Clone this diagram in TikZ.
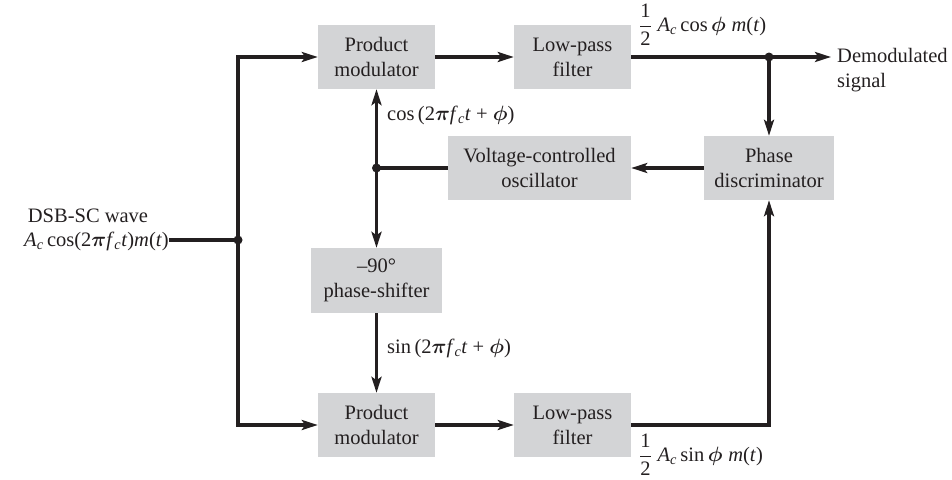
\documentclass[tikz,border=0pt]{standalone}
\usepackage{amsmath,bm}
\usepackage{fontspec}
\setmainfont{Liberation Serif}
\usetikzlibrary{arrows.meta}
\definecolor{boxgray}{RGB}{211,212,214}
\definecolor{ink}{RGB}{35,31,32}
\newcommand{\vi}[1]{\textit{#1}}
\newcommand{\half}{$\dfrac{\text{1}}{\text{2}}$}
\begin{document}
\begin{tikzpicture}[x=1pt,y=-1pt,
  font=\fontsize{20.5}{25}\selectfont,
  blk/.style={fill=boxgray, draw=none, align=center, inner sep=0pt, text=ink,
    minimum width=117pt, minimum height=64pt},
  wire/.style={line width=3.2pt, draw=ink},
  arr/.style={wire, -{Stealth[length=16pt,width=10pt,inset=3.5pt]}},
  dot/.style={circle, fill=ink, inner sep=0pt, minimum size=9pt},
  lbl/.style={text=ink, inner sep=0pt}]
\useasboundingbox (0,0) rectangle (952,479);

% blocks
\node[blk] (pm1) at (376.5,57) {Product\\modulator};
\node[blk] (lp1) at (572.5,57) {Low-pass\\filter};
\node[blk, minimum width=183pt] (vco) at (539.5,168) {Voltage-controlled\\oscillator};
\node[blk, minimum width=130pt] (pd) at (769,168) {Phase\\discriminator};
\node[blk, minimum width=131pt, minimum height=65pt] (ps) at (376.5,280.5) {–90°\\phase-shifter};
\node[blk] (pm2) at (376.5,425) {Product\\modulator};
\node[blk] (lp2) at (572.5,425) {Low-pass\\filter};

% junctions
\coordinate (split) at (238,240);
\coordinate (tap) at (769,57);
\coordinate (vtap) at (376.5,168);
\coordinate (out) at (831,57);

% input labels
\node[lbl] (inlab1) at (88,216) {DSB-SC wave};
\node[lbl, anchor=base east] (inlab2) at (169,246) {\vi{A}\textsubscript{\vi{c}}\,cos(2$\bm{\pi}$\vi{f}\textsubscript{\vi{c}}\vi{t})\vi{m}(\vi{t})};

% wires
\draw[wire] (inlab2.east |- split) -- (split);
\draw[arr] (split) |- (pm1.west);
\draw[arr] (split) |- (pm2.west);
\draw[arr] (pm1) -- (lp1);
\draw[wire] (lp1.east) -- (tap);
\draw[arr] (tap) -- (out);
\draw[arr] (tap) -- (pd.north);
\draw[arr] (pd) -- (vco);
\draw[wire] (vco.west) -- (vtap);
\draw[arr] (vtap) -- (pm1.south);
\draw[arr] (vtap) -- (ps.north);
\draw[arr] (ps) -- (pm2);
\draw[arr] (pm2) -- (lp2);
\draw[arr] (lp2.east) -| (pd.south);

\node[dot] (d1) at (split) {};
\node[dot] (d2) at (tap) {};
\node[dot] (d3) at (vtap) {};

% signal labels
\node[lbl, anchor=west] (cosl) at (387,115) {cos\,(2$\bm{\pi}$\vi{f}\textsubscript{\vi{c}}\vi{t} + $\bm{\phi}$)};
\node[lbl, anchor=west] (sinl) at (387,348) {sin\,(2$\bm{\pi}$\vi{f}\textsubscript{\vi{c}}\vi{t} + $\bm{\phi}$)};
\node[lbl, anchor=west] (topl) at (639,25) {\half\;\vi{A}\textsubscript{\vi{c}}\,cos$\,\bm{\phi}$\;\vi{m}(\vi{t})};
\node[lbl, anchor=west] (botl) at (639,455) {\half\;\vi{A}\textsubscript{\vi{c}}\,sin$\,\bm{\phi}$\;\vi{m}(\vi{t})};
\node[lbl, anchor=west, align=left] (demod) at (837,70) {Demodulated\\signal};
\end{tikzpicture}
\end{document}
